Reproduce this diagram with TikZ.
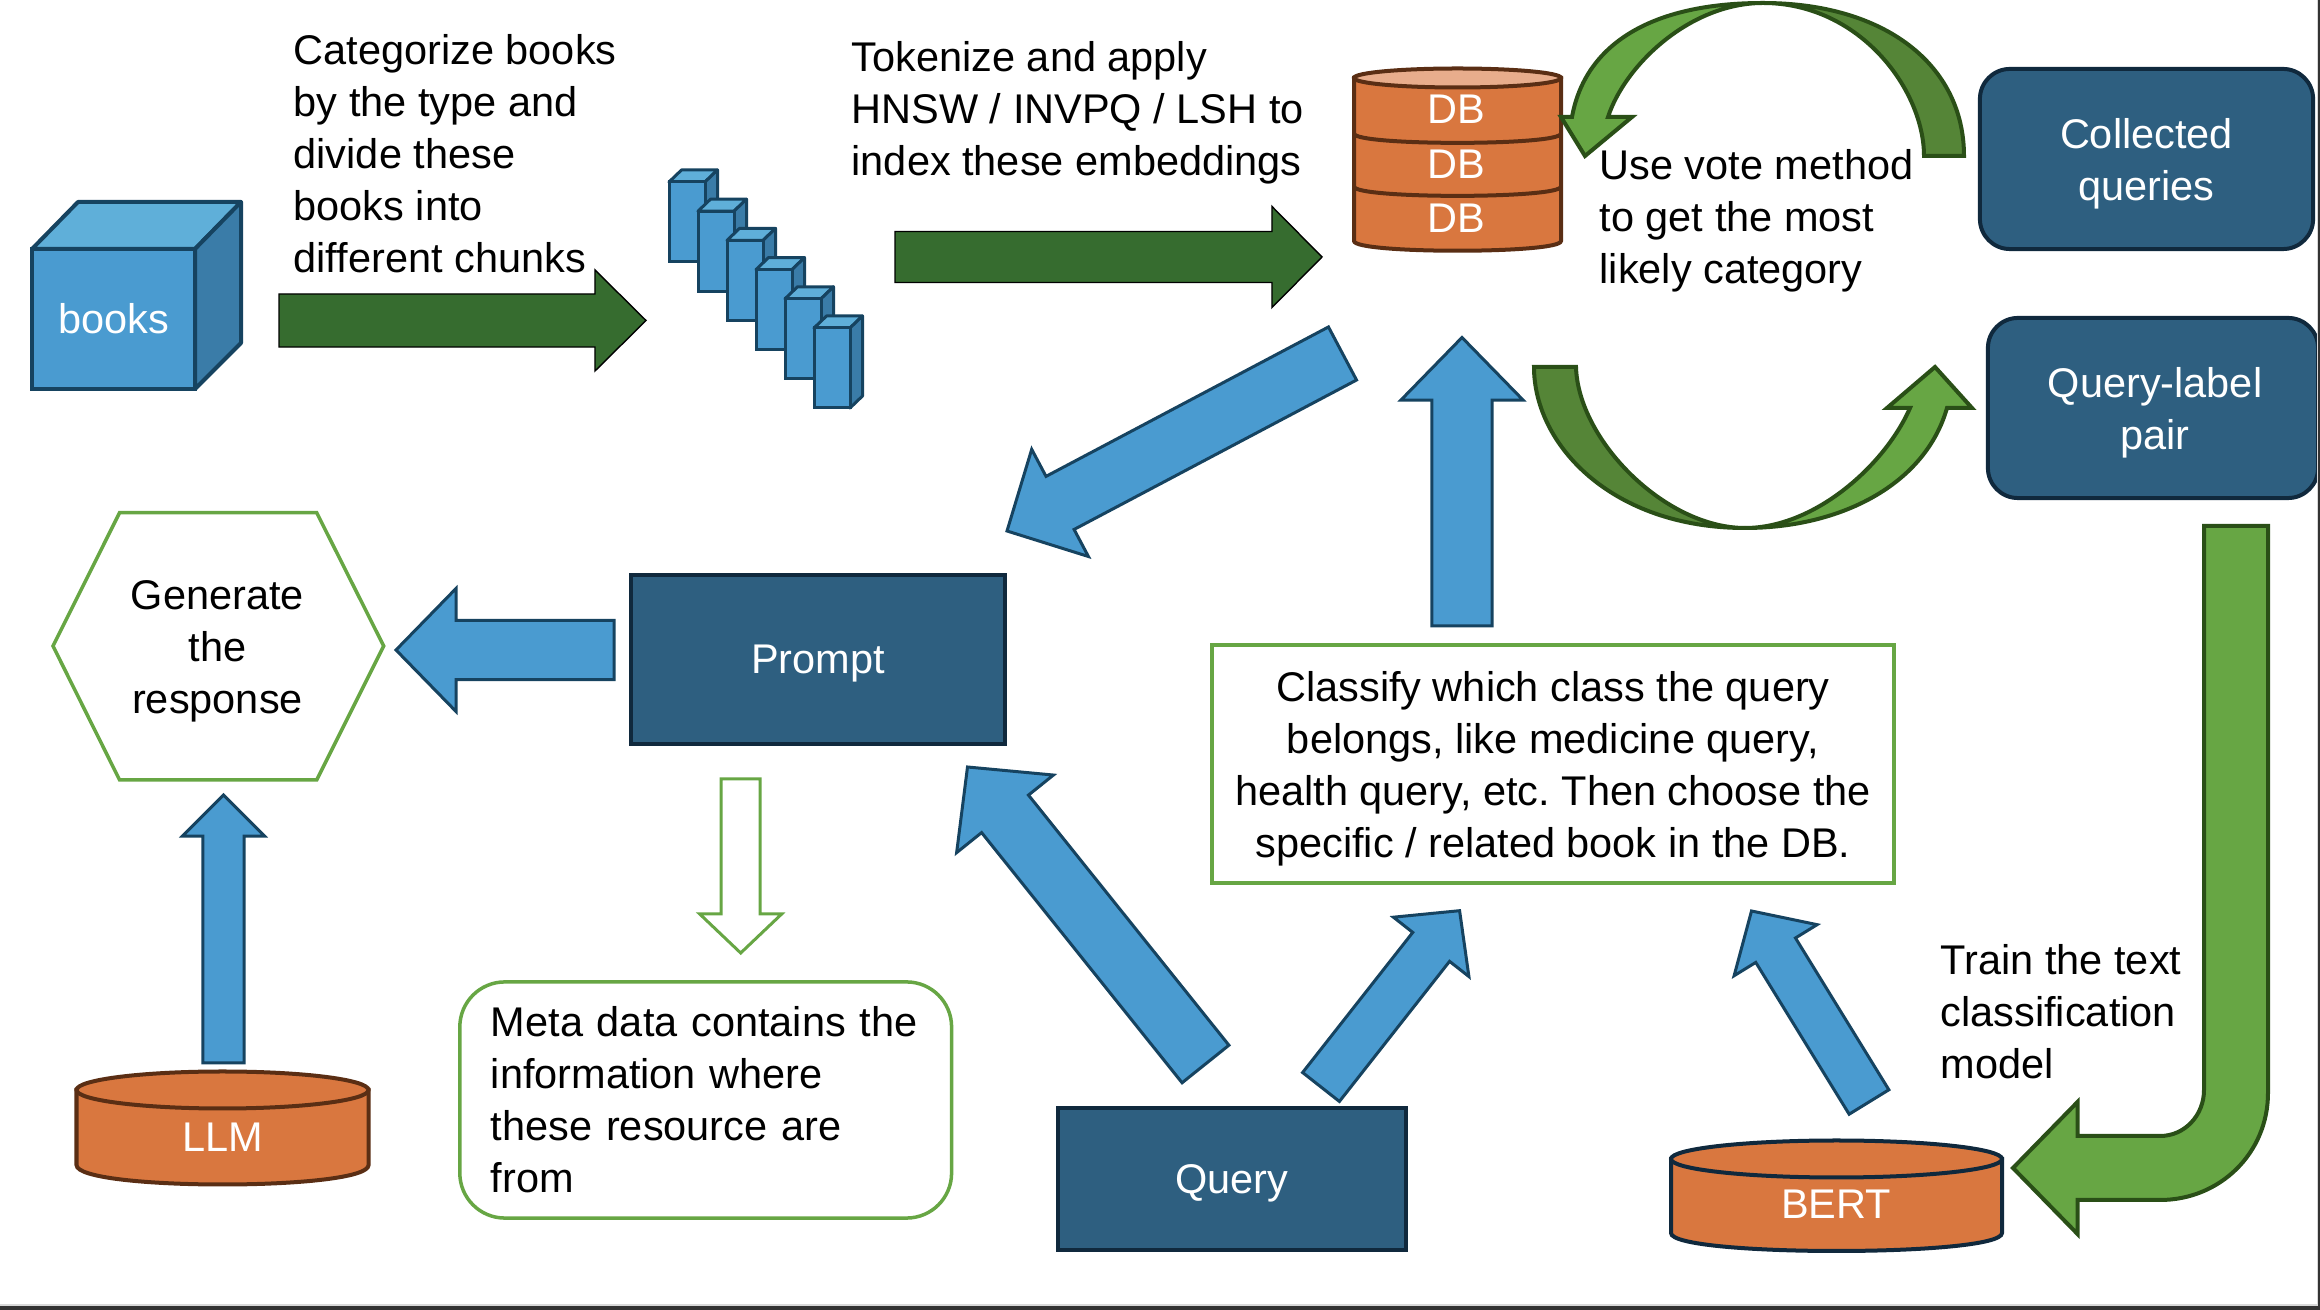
\documentclass[tikz,border=0pt]{standalone}
\usepackage{fontspec}
\setmainfont{Liberation Sans}
\usetikzlibrary{calc}
\definecolor{bluefill}{HTML}{4A9BD0}
\definecolor{bluetop}{HTML}{5FAFD9}
\definecolor{blueside}{HTML}{3A7CA8}
\definecolor{blueline}{HTML}{164360}
\definecolor{navyfill}{HTML}{2E5F80}
\definecolor{navyline}{HTML}{10293D}
\definecolor{orangefill}{HTML}{D9773F}
\definecolor{brownline}{HTML}{5A2E14}
\definecolor{leaf}{HTML}{67A644}
\definecolor{leafdark}{HTML}{558537}
\definecolor{leafline}{HTML}{2A4F17}
\definecolor{forest}{HTML}{366C2F}
\tikzset{
  every node/.style={font=\fontsize{11.8}{14.8}\selectfont\frenchspacing,inner sep=0pt,align=center},
  bluearrow/.style={draw=blueline,fill=bluefill,line width=0.03cm,line join=miter},
  forestarrow/.style={fill=forest},
  leafarrow/.style={draw=leafline,fill=leaf,line width=0.04cm},
  leafcrescent/.style={draw=leafline,fill=leafdark,line width=0.04cm},
  navybox/.style={draw=navyline,fill=navyfill,text=white,line width=0.04cm},
  greenbox/.style={draw=leaf,line width=0.035cm},
  cyl/.style={fill=orangefill,line width=0.04cm},
  note/.style={anchor=west,align=left},
  whitetext/.style={text=white}
}
\newcommand{\blockarrow}[6]{%
  \coordinate (neck) at ($(#3)!#6cm!(#2)$);
  \draw[#1] ($(#2)!#4cm!90:(#3)$) -- ($(neck)!#4cm!90:(#3)$) -- ($(neck)!#5cm!90:(#3)$) -- (#3)
    -- ($(neck)!#5cm!-90:(#3)$) -- ($(neck)!#4cm!-90:(#3)$) -- ($(#2)!#4cm!-90:(#3)$) -- cycle;
}
\begin{document}
\begin{tikzpicture}[x=0.01cm,y=-0.01cm]
\useasboundingbox (0,0) rectangle (2320,1310);
% books
\draw[blueline,fill=bluetop,line width=0.04cm,line join=round] (32,249) -- (78,202) -- (241,202) -- (195,249) -- cycle;
\draw[blueline,fill=blueside,line width=0.04cm,line join=round] (195,249) -- (241,202) -- (241,343) -- (195,389) -- cycle;
\node[draw=blueline,fill=bluefill,whitetext,line width=0.04cm,minimum width=1.63cm,minimum height=1.40cm] (books) at (113.5,319) {books};
% chunks
\foreach \i in {0,...,5} {
  \begin{scope}[shift={(29*\i,29.2*\i)}]
  \draw[blueline,fill=bluetop,line width=0.03cm,line join=round] (669,182) -- (681.5,170) -- (717.5,170) -- (705,182) -- cycle;
  \draw[blueline,fill=blueside,line width=0.03cm,line join=round] (705,182) -- (717.5,170) -- (717.5,250) -- (705,262) -- cycle;
  \draw[blueline,fill=bluefill,line width=0.03cm] (669,182) rectangle (705,262);
  \end{scope}
}
\node[note] (chunktext) at (293,154) {Categorize books\\by the type and\\divide these\\books into\\different chunks};
\node[note] (indextext) at (851,112.5) {Tokenize and apply\\HNSW / INVPQ / LSH to\\index these embeddings};
\coordinate (booksOut) at (279,320.5);
\coordinate (chunksIn) at (646,320.5);
\coordinate (chunksOut) at (895,257);
\coordinate (dbIn) at (1322,257);
\blockarrow{forestarrow}{booksOut}{chunksIn}{0.265}{0.505}{0.51}
\blockarrow{forestarrow}{chunksOut}{dbIn}{0.255}{0.505}{0.50}
% db
\draw[brownline,cyl] (1354,78) -- (1354,241) .. controls (1354,254) and (1561,254) .. (1561,241) -- (1561,78) -- cycle;
\draw[brownline,line width=0.04cm] (1354,133.5) .. controls (1354,146) and (1561,146) .. (1561,133.5);
\draw[brownline,line width=0.04cm] (1354,186.5) .. controls (1354,199) and (1561,199) .. (1561,186.5);
\draw[brownline,fill=orangefill!60!white,line width=0.04cm] (1457.5,78) ellipse [x radius=103.5,y radius=9.5];
\node[whitetext] (dbone) at (1456,109) {DB};
\node[whitetext] (dbtwo) at (1456,164) {DB};
\node[whitetext] (dbthree) at (1456,218) {DB};
% vote loop
\draw[leafcrescent] (1964,156) .. controls (1964,65) and (1885,3) .. (1763,3) .. controls (1860,3) and (1924,90) .. (1924,156) -- cycle;
\draw[leafarrow] (1763,3) .. controls (1650,3) and (1585,45) .. (1572,117) -- (1561,117) -- (1585,156) -- (1632,117) -- (1608,117) .. controls (1625,65) and (1690,3) .. (1763,3) -- cycle;
\node[note] (votetext) at (1599,221) {Use vote method\\to get the most\\likely category};
\node[navybox,rounded corners=0.3cm,minimum width=3.33cm,minimum height=1.80cm] (collected) at (2146.5,159) {};
\node[text=white] (collectedtext) at (2146.5,163.5) {Collected\\queries};
\node[navybox,rounded corners=0.3cm,minimum width=3.30cm,minimum height=1.80cm] (pair) at (2153,408) {};
\node[text=white] (pairtext) at (2155,412.5) {Query-label\\pair};
% pair loop
\draw[leafcrescent] (1534,367) .. controls (1534,445) and (1612,528) .. (1745,528) .. controls (1665,528) and (1578,440) .. (1576,367) -- cycle;
\draw[leafarrow] (1745,528) .. controls (1840,528) and (1925,485) .. (1947,408) -- (1972,408) -- (1935,367) -- (1887,408) -- (1910,408) .. controls (1885,465) and (1815,528) .. (1745,528) -- cycle;
% train arrow
\draw[leafarrow] (2204,526) -- (2268,526) -- (2268,1093) .. controls (2268,1153) and (2220,1200) .. (2160,1200) -- (2077.5,1200) -- (2077.5,1234) -- (2013,1168) -- (2077.5,1102) -- (2077.5,1136) -- (2160,1136) .. controls (2185,1136) and (2204,1115) .. (2204,1090) -- cycle;
\node[note] (traintext) at (1940,1012) {Train the text\\classification\\model};
% bert
\draw[navyline,cyl] (1671,1159) -- (1671,1233) .. controls (1671,1257) and (2002,1257) .. (2002,1233) -- (2002,1159) -- cycle;
\draw[navyline,cyl] (1836.5,1159) ellipse [x radius=165.5,y radius=18.5];
\node[whitetext] (bert) at (1836,1204.5) {BERT};
% llm
\draw[brownline,cyl] (76.5,1090) -- (76.5,1165) .. controls (76.5,1191) and (368.6,1191) .. (368.6,1165) -- (368.6,1090) -- cycle;
\draw[brownline,cyl] (222.5,1090) ellipse [x radius=146,y radius=18.5];
\node[whitetext] (llm) at (223,1137.5) {LLM};
% middle boxes
\node[navybox,minimum width=3.74cm,minimum height=1.69cm] (prompt) at (818,659.5) {};
\node[text=white] (prompttext) at (818,664) {Prompt};
\node[navybox,minimum width=3.48cm,minimum height=1.42cm] (query) at (1232,1179) {};
\node[text=white] (querytext) at (1232,1183.5) {Query};
\node[greenbox,minimum width=6.82cm,minimum height=2.38cm] (classify) at (1553,764) {};
\node (classifytext) at (1553,768.5) {Classify which class the query\\belongs, like medicine query,\\health query, etc. Then choose the\\specific / related book in the DB.};
\node[greenbox,rounded corners=0.45cm,minimum width=4.915cm,minimum height=2.36cm,inner xsep=0.31cm,text width=4.295cm,align=left] (meta) at (705.7,1100) {Meta data contains the\\information where\\these resource are\\from};
\draw[greenbox] (53,646) -- (119.6,512.7) -- (316.7,512.7) -- (383.7,646) -- (316.7,780) -- (119.6,780) -- cycle;
\node (response) at (217.5,651.5) {Generate\\the\\response};
% blue arrows
\coordinate (dbPrompt) at (1342.5,353.5);
\coordinate (promptIn) at (1007,531);
\coordinate (classifyOut) at (1462,626);
\coordinate (dbUp) at (1462,337.5);
\coordinate (promptOut) at (614,650);
\coordinate (responseIn) at (396,650);
\coordinate (llmOut) at (223.5,1063);
\coordinate (responseUp) at (223.5,795);
\coordinate (queryLeft) at (1205.5,1064);
\coordinate (promptUp) at (967.5,767);
\coordinate (queryRight) at (1321,1087);
\coordinate (classifyLeft) at (1459.6,910.7);
\coordinate (bertOut) at (1869,1102);
\coordinate (classifyRight) at (1751.5,911);
\coordinate (metaTop) at (740.7,779);
\coordinate (metaTip) at (740.7,953);
\blockarrow{bluearrow}{dbPrompt}{promptIn}{0.30}{0.606}{0.60}
\blockarrow{bluearrow}{classifyOut}{dbUp}{0.30}{0.61}{0.625}
\blockarrow{bluearrow}{promptOut}{responseIn}{0.295}{0.615}{0.60}
\blockarrow{bluearrow}{llmOut}{responseUp}{0.205}{0.41}{0.41}
\blockarrow{bluearrow}{queryLeft}{promptUp}{0.30}{0.62}{0.60}
\blockarrow{bluearrow}{queryRight}{classifyLeft}{0.234}{0.48}{0.46}
\blockarrow{bluearrow}{bertOut}{classifyRight}{0.233}{0.487}{0.46}
\blockarrow{draw=leaf,line width=0.03cm}{metaTop}{metaTip}{0.195}{0.41}{0.39}
% frame of the page
\fill[black!15] (2316.5,0) rectangle (2318,1306);
\fill[black!15] (0,1304.5) rectangle (2318,1306.5);
\fill[black!80] (2318,0) rectangle (2320,1310);
\fill[black!80] (0,1306.5) rectangle (2320,1310);
\end{tikzpicture}
\end{document}
